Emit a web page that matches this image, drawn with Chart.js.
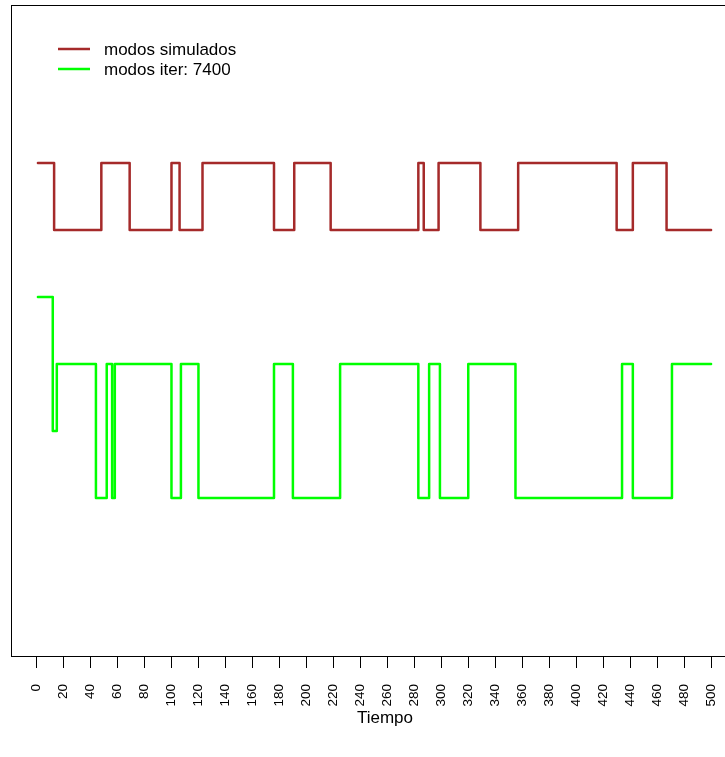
<!DOCTYPE html>
<html>
<head>
<meta charset="utf-8">
<script src="https://cdn.jsdelivr.net/npm/chart.js@4/dist/chart.umd.min.js"></script>
<style>
  html, body { margin: 0; padding: 0; background: #ffffff; overflow: hidden; }
  #wrap { width: 760px; height: 757px; position: relative; }
</style>
</head>
<body>
<div id="wrap"><canvas id="c" width="760" height="757"></canvas></div>
<script>
// ---- data ----
const xTickValues = [0, 20, 40, 60, 80, 100, 120, 140, 160, 180, 200, 220, 240, 260, 280, 300, 320, 340, 360, 380, 400, 420, 440, 460, 480, 500];
const xLabelTitle = "Tiempo";
const seriesNames = ["modos simulados", "modos iter: 7400"];

// change points (time at which the state begins) and the plotted level
const redTimes  = [1, 13, 48, 69, 100, 106, 123, 176, 191, 218, 283, 287, 298, 329, 357, 430, 442, 467];
const redLevels = [7, 6, 7, 6, 7, 6, 7, 6, 7, 6, 7, 6, 7, 6, 7, 6, 7, 6];

const greenTimes  = [1, 12, 15, 44, 52, 56, 58, 100, 107, 120, 176, 190, 225, 283, 291, 299, 320, 355, 434, 442, 471];
const greenLevels = [5, 3, 4, 2, 4, 2, 4, 2, 4, 2, 4, 2, 4, 2, 4, 2, 4, 2, 4, 2, 4];

const lastTime = 500;

function toPoints(times, levels) {
  const pts = times.map((t, i) => ({ x: t, y: levels[i] }));
  pts.push({ x: lastTime, y: levels[levels.length - 1] });
  return pts;
}

const RED = "#A52A2A";
const GREEN = "#00FF00";
const FONT = "'Liberation Sans', Arial, Helvetica, sans-serif";

const decor = {
  id: "decor",
  afterDraw(chart) {
    const ctx = chart.ctx;
    const a = chart.chartArea;
    ctx.save();
    // plot box
    ctx.strokeStyle = "#000000";
    ctx.lineWidth = 1;
    ctx.strokeRect(Math.round(a.left) + 0.5, Math.round(a.top) + 0.5,
                   Math.round(a.right - a.left), Math.round(a.bottom - a.top));
    // legend
    const items = [[seriesNames[0], RED, 49], [seriesNames[1], GREEN, 69]];
    ctx.font = "17px " + FONT;
    ctx.textBaseline = "middle";
    ctx.textAlign = "left";
    ctx.lineCap = "butt";
    for (const [txt, col, y] of items) {
      ctx.strokeStyle = col;
      ctx.lineWidth = 2.5;
      ctx.beginPath();
      ctx.moveTo(58, y);
      ctx.lineTo(90, y);
      ctx.stroke();
      ctx.fillStyle = "#000000";
      ctx.fillText(txt, 104, y + 1);
    }
    // x axis title
    ctx.font = "17px " + FONT;
    ctx.textAlign = "center";
    ctx.textBaseline = "middle";
    ctx.fillText(xLabelTitle, 385, 718);
    ctx.restore();
  }
};

new Chart(document.getElementById("c"), {
  type: "line",
  data: {
    datasets: [
      {
        label: seriesNames[0],
        data: toPoints(redTimes, redLevels),
        borderColor: RED,
        borderWidth: 2.5,
        stepped: "before",
        pointRadius: 0,
        fill: false,
        borderCapStyle: "round",
        borderJoinStyle: "round"
      },
      {
        label: seriesNames[1],
        data: toPoints(greenTimes, greenLevels),
        borderColor: GREEN,
        borderWidth: 2.5,
        stepped: "before",
        pointRadius: 0,
        fill: false,
        borderCapStyle: "round",
        borderJoinStyle: "round"
      }
    ]
  },
  options: {
    responsive: false,
    animation: false,
    devicePixelRatio: 1,
    layout: { padding: { left: 11, top: 5, right: 22, bottom: 0 } },
    plugins: { legend: { display: false }, tooltip: { enabled: false }, title: { display: false } },
    scales: {
      x: {
        type: "linear",
        min: -18.96,
        max: 519.96,
        afterBuildTicks: (s) => { s.ticks = xTickValues.map(v => ({ value: v })); },
        afterFit: (s) => { s.height = 101; },
        grid: { display: true, drawOnChartArea: false, drawTicks: true, tickLength: 12, color: "#000000", lineWidth: 1 },
        border: { display: false },
        ticks: {
          autoSkip: false,
          minRotation: 90,
          maxRotation: 90,
          padding: 16,
          color: "#000000",
          font: { family: FONT, size: 13.5 },
          callback: (v) => String(v)
        }
      },
      y: {
        display: false,
        min: -0.36,
        max: 9.36
      }
    }
  },
  plugins: [decor]
});
</script>
</body>
</html>
